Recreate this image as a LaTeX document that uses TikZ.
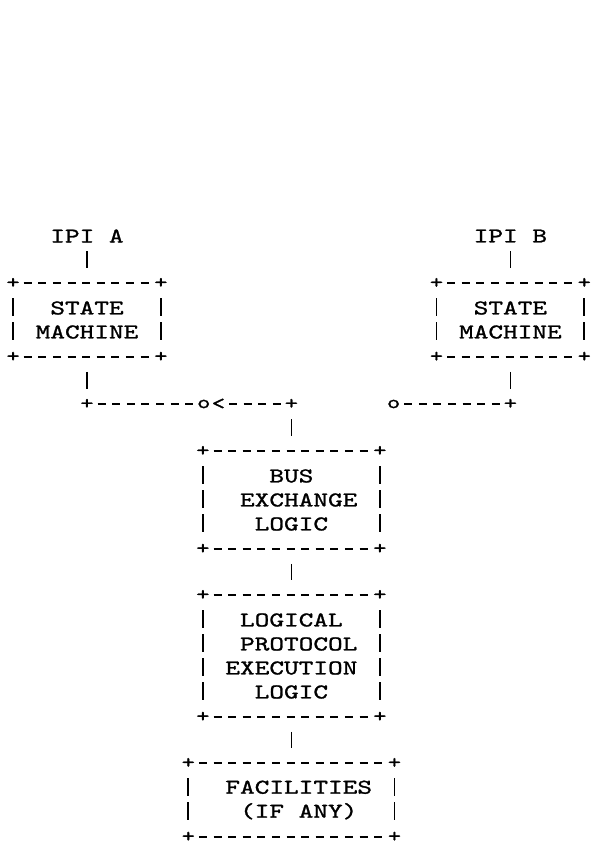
\documentclass[tikz,border=0pt]{standalone}
\usepackage{fontspec}
\newfontfamily\asciifont{lmmono10-regular.otf}[FakeStretch=1.33,FakeBold=1.2]
\newcommand\asciibox[1]{%
    \foreach \p/\q in {north west/north east,south west/south east}
        \draw [rule] (#1.\p) -- (#1.\q);
    \foreach \p/\q in {north west/south west,north east/south east}
        \draw [bar] (#1.\p) -- (#1.\q);
    \foreach \p in {north west,north east,south west,south east}
        \node [cross] at (#1.\p) {+};}

\begin{document}
\begin{tikzpicture}[x=14.6pt, y=-24pt]
    \begin{scope}[line width=1.8pt, font=\asciifont\fontsize{21}{24}\selectfont,
        rule/.style={dash pattern=on 8pt off 6.6pt, shorten <=10.6pt, shorten >=10.6pt},
        bar/.style={dash pattern=on 17.8pt off 6.2pt, shorten <=15.1pt, shorten >=15.1pt},
        cross/.style={inner sep=0pt, font=\asciifont\fontsize{19}{24}\selectfont},
        box/.style 2 args={inner sep=0pt, align=center, minimum width=#1*14.6pt, minimum height=#2*24pt}]
    \useasboundingbox (-5.959,-9.833) rectangle (34.452,25.417);

    \node (ipiA) at (0,0) {IPI A};
    \node (ipiB) at (29,0) {IPI B};

    \node [box={10}{3}] (smA) at (0,3.5) {STATE\\MACHINE};
    \node [box={10}{3}] (smB) at (29,3.5) {STATE\\MACHINE};
    \node [box={12}{4}] (bus) at (14,11) {BUS\\\hphantom{X}EXCHANGE\\LOGIC};
    \node [box={12}{5}] (lpe) at (14,17.5) {LOGICAL\\\hphantom{X}PROTOCOL\\EXECUTION\\LOGIC};
    \node [box={14}{3}] (fac) at (14,23.5) {\hphantom{X}FACILITIES\\\hphantom{X}(IF ANY)};
    \foreach \b in {smA,smB,bus,lpe,fac}{
        \asciibox{\b}}

    \node [cross] (jA) at (0,7)  {+};
    \node [cross] (jC) at (14,7) {+};
    \node [cross] (jB) at (29,7) {+};
    \node [cross] (swA) at (8,7)  {o};
    \node [cross] (tipA) at (9,7) {<};
    \node [cross] (swB) at (21,7) {o};

    \draw [bar] (ipiA.center) -- (smA.north);
    \draw [bar] (ipiB.center) -- (smB.north);
    \draw [bar] (smA.south) -- (jA.center);
    \draw [bar] (smB.south) -- (jB.center);
    \draw [rule] (jA.center) -- (swA.center);
    \draw [rule] (tipA.center) -- (jC.center);
    \draw [rule] (swB.center) -- (jB.center);
    \draw [bar] (jC.center) -- (bus.north);
    \draw [bar] (bus.south) -- (lpe.north);
    \draw [bar] (lpe.south) -- (fac.north);
    \end{scope}
\end{tikzpicture}
\end{document}
